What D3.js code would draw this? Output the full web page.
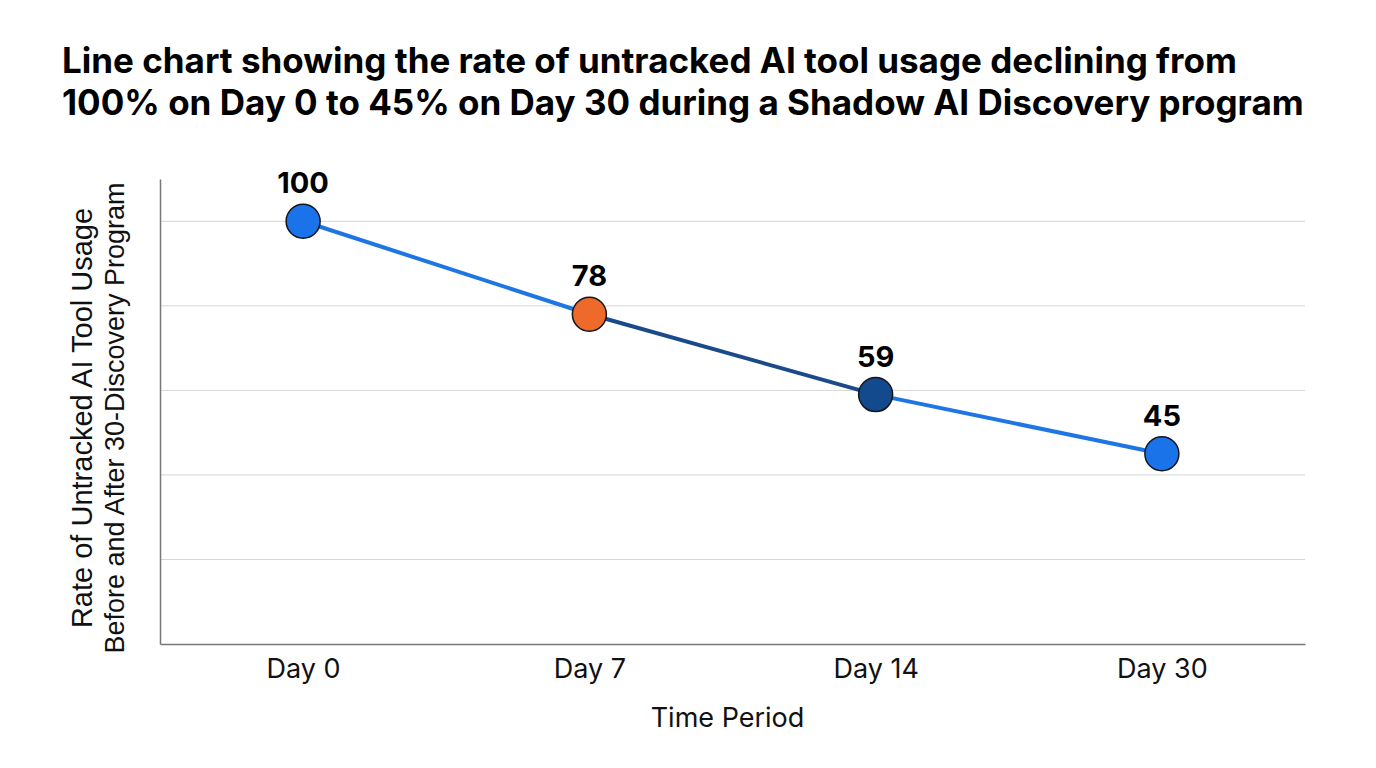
<!DOCTYPE html>
<html>
<head>
<meta charset="utf-8">
<script src="https://cdn.jsdelivr.net/npm/d3@7/dist/d3.min.js"></script>
<style>
  html, body { margin: 0; padding: 0; background: #fff; }
  svg { display: block; }
</style>
</head>
<body>
<svg id="chart" width="1376" height="768"></svg>
<script>
// chart data
const periods = ["Day 0", "Day 7", "Day 14", "Day 30"];
const rates = [100, 78, 59, 45];
const pointColors = ["#1a73e8", "#ee6a2a", "#134a8e", "#1a73e8"];
const segmentColors = ["#1f76e3", "#1b4a8a", "#1f76e3"];
const gridTicks = [0, 20, 40, 60, 80, 100];

const titleLines = [
    "Line chart showing the rate of untracked AI tool usage declining from",
    "100% on Day 0 to 45% on Day 30 during a Shadow AI Discovery program"
];
const yTitleLines = ["Rate of Untracked AI Tool Usage", "Before and After 30-Discovery Program"];
const xTitle = "Time Period";

const margin = { top: 179, right: 71, bottom: 124, left: 160 };
const width = 1376, height = 768;
const innerW = width - margin.left - margin.right;
const innerH = height - margin.top - margin.bottom;

const svg = d3.select("#chart");

// title
svg.append("text")
    .attr("x", 62)
    .attr("y", 73)
    .attr("font-family", "Inter, 'Noto Sans', sans-serif")
    .attr("font-weight", "700")
    .attr("font-size", "35px")
    .attr("fill", "#000")
    .selectAll("tspan")
    .data(titleLines)
    .enter()
    .append("tspan")
    .attr("x", 62)
    .attr("dy", (d, i) => i === 0 ? 0 : 42)
    .text(d => d);

const g = svg.append("g").attr("transform", `translate(${margin.left},${margin.top})`);

const x = d3.scalePoint().domain(periods).range([0, innerW]).padding(0.5);
const y = d3.scaleLinear().domain([0, 110]).range([innerH, 0]);

// gridlines
g.append("g")
    .selectAll("line")
    .data(gridTicks.filter(t => t > 0))
    .enter()
    .append("line")
    .attr("x1", 0)
    .attr("x2", innerW)
    .attr("y1", d => y(d))
    .attr("y2", d => y(d))
    .attr("stroke", "#d6d6d6")
    .attr("stroke-width", 1);

// axes
const xAxis = g.append("g")
    .attr("transform", `translate(0,${innerH})`)
    .call(d3.axisBottom(x).tickSize(0).tickPadding(15));
xAxis.select(".domain").attr("stroke", "#777").attr("stroke-width", 1.5);
xAxis.selectAll("text")
    .attr("font-family", "Inter, 'Noto Sans', sans-serif")
    .attr("font-size", "27px")
    .attr("fill", "#111");

const yAxis = g.append("g")
    .call(d3.axisLeft(y).tickValues([]).tickSize(0));
yAxis.select(".domain").attr("stroke", "#777").attr("stroke-width", 1.5);

// x axis title
svg.append("text")
    .attr("x", margin.left + innerW / 2 - 5)
    .attr("y", 727)
    .attr("text-anchor", "middle")
    .attr("font-family", "Inter, 'Noto Sans', sans-serif")
    .attr("font-size", "27px")
    .attr("fill", "#111")
    .text(xTitle);

// y axis title (two lines)
const yMid = 418;
svg.append("text")
    .attr("transform", `translate(92,${yMid}) rotate(-90)`)
    .attr("text-anchor", "middle")
    .attr("font-family", "'Liberation Sans', Arial, sans-serif")
    .attr("font-size", "29px")
    .attr("fill", "#111")
    .text(yTitleLines[0]);
svg.append("text")
    .attr("transform", `translate(124,${yMid}) rotate(-90)`)
    .attr("text-anchor", "middle")
    .attr("font-family", "'Liberation Sans', Arial, sans-serif")
    .attr("font-size", "27px")
    .attr("fill", "#111")
    .text(yTitleLines[1]);

// line segments, each with its own colour
const points = periods.map((p, i) => ({ period: p, value: rates[i], color: pointColors[i] }));
const segments = d3.pairs(points).map((pair, i) => ({ a: pair[0], b: pair[1], color: segmentColors[i] }));

g.append("g")
    .selectAll("line")
    .data(segments)
    .enter()
    .append("line")
    .attr("x1", d => x(d.a.period))
    .attr("y1", d => y(d.a.value))
    .attr("x2", d => x(d.b.period))
    .attr("y2", d => y(d.b.value))
    .attr("stroke", d => d.color)
    .attr("stroke-width", 4);

// markers
g.append("g")
    .selectAll("circle")
    .data(points)
    .enter()
    .append("circle")
    .attr("cx", d => x(d.period))
    .attr("cy", d => y(d.value))
    .attr("r", 17)
    .attr("fill", d => d.color)
    .attr("stroke", "#14161f")
    .attr("stroke-width", 1.5);

// value labels
g.append("g")
    .selectAll("text")
    .data(points)
    .enter()
    .append("text")
    .attr("x", d => x(d.period))
    .attr("y", d => y(d.value) - 28)
    .attr("text-anchor", "middle")
    .attr("font-family", "Inter, 'Noto Sans', sans-serif")
    .attr("font-weight", "700")
    .attr("font-size", "29px")
    .attr("fill", "#000")
    .text(d => d.value);
</script>
</body>
</html>
